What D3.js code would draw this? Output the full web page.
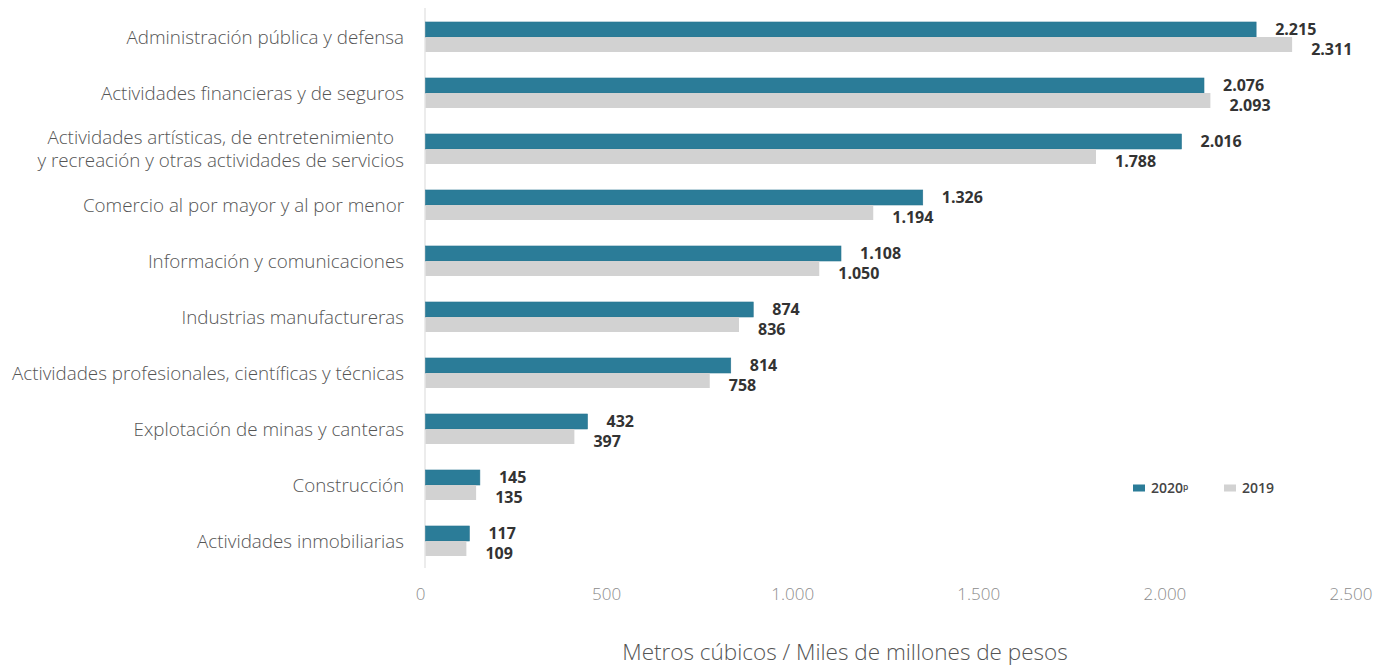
<!DOCTYPE html>
<html lang="es">
<head>
<meta charset="utf-8">
<script src="https://cdn.jsdelivr.net/npm/d3@7"></script>
<style>
  html, body { margin: 0; padding: 0; background: #ffffff; }
  svg { display: block; }
</style>
</head>
<body>
<svg id="chart" width="1382" height="667"></svg>
<script>
// Sectors, top to bottom
const categories = [
  ["Administración pública y defensa"],
  ["Actividades financieras y de seguros"],
  ["Actividades artísticas, de entretenimiento", "y recreación y otras actividades de servicios"],
  ["Comercio al por mayor y al por menor"],
  ["Información y comunicaciones"],
  ["Industrias manufactureras"],
  ["Actividades profesionales, científicas y técnicas"],
  ["Explotación de minas y canteras"],
  ["Construcción"],
  ["Actividades inmobiliarias"]
];

// Values per sector
const values2020 = [2215, 2076, 2016, 1326, 1108, 874, 814, 432, 145, 117];
const values2019 = [2311, 2093, 1788, 1194, 1050, 836, 758, 397, 135, 109];

const seriesNames = ["2020", "2019"];
const seriesColors = ["#2b7c98", "#d2d2d2"];

const xTicks = [0, 500, 1000, 1500, 2000, 2500];
const axisTitle = "Metros cúbicos / Miles de millones de pesos";

// Spanish number format: "." as thousands separator
const fmt = d3.formatLocale({ decimal: ",", thousands: ".", grouping: [3], currency: ["$", ""] }).format(",d");

const svg = d3.select("#chart");

const x = d3.scaleLinear().domain([0, 2500]).range([425.5, 1363]);
const y = d3.scaleBand()
  .domain(d3.range(categories.length))
  .range([9, 569])
  .paddingInner(0.464)
  .paddingOuter(0.232);
const ySub = d3.scaleBand().domain([0, 1]).range([0, y.bandwidth()]);

const rows = categories.map((c, i) => ({ i, label: c, vals: [values2020[i], values2019[i]] }));

// Vertical baseline
svg.append("line")
  .attr("x1", x(0) - 0.5).attr("x2", x(0) - 0.5)
  .attr("y1", 8).attr("y2", 568)
  .attr("stroke", "#d9d9d9").attr("stroke-width", 1);

// Bars
const groups = svg.selectAll("g.row").data(rows).join("g")
  .attr("class", "row")
  .attr("transform", d => `translate(0,${y(d.i)})`);

groups.selectAll("rect").data(d => d.vals.map((v, s) => ({ v, s }))).join("rect")
  .attr("x", x(0))
  .attr("y", d => ySub(d.s))
  .attr("width", d => x(d.v) - x(0))
  .attr("height", ySub.bandwidth())
  .attr("fill", d => seriesColors[d.s])
  .attr("stroke", d => d.s === 0 ? "#2a7591" : "none")
  .attr("stroke-width", 0.6);

// Value labels
groups.selectAll("text.val").data(d => d.vals.map((v, s) => ({ v, s }))).join("text")
  .attr("class", "val")
  .attr("x", d => x(d.v) + 19)
  .attr("y", d => ySub(d.s) + ySub.bandwidth() / 2 + (d.s === 1 ? 5 : 0))
  .attr("dy", "0.36em")
  .attr("font-family", "'Open Sans', sans-serif")
  .attr("font-weight", 700)
  .attr("font-size", 16)
  .attr("fill", "#333333")
  .text(d => fmt(d.v));

// Category labels: right edge at labelRight; wrapped labels are centred on each other
const labelRight = 404;
const lineH = 23;
rows.forEach(d => {
  const cy = y(d.i) + y.bandwidth() / 2;
  const n = d.label.length;
  const g = svg.append("g").attr("class", "cat");
  const texts = g.selectAll("text").data(d.label).join("text")
    .attr("y", (t, k) => cy + (k - (n - 1) / 2) * lineH)
    .attr("dy", "0.35em")
    .attr("font-family", "'Open Sans', sans-serif")
    .attr("font-weight", 300)
    .attr("font-size", 18.8)
    .attr("fill", "#555555")
    .text(t => t);
  if (n === 1) {
    texts.attr("text-anchor", "end").attr("x", labelRight);
  } else {
    const maxW = d3.max(texts.nodes(), node => node.getComputedTextLength());
    texts.attr("text-anchor", "middle").attr("x", labelRight - maxW / 2);
  }
});

// X tick labels
svg.selectAll("text.tick").data(xTicks).join("text")
  .attr("class", "tick")
  .attr("x", (d, i) => x(d) - 5 - i * 1.4)
  .attr("y", 594)
  .attr("dy", "0.35em")
  .attr("text-anchor", "middle")
  .attr("font-family", "'Open Sans', sans-serif")
  .attr("font-weight", 300)
  .attr("font-size", 17)
  .attr("fill", "#8c8c8c")
  .text(d => fmt(d));

// Axis title
svg.append("text")
  .attr("x", 845).attr("y", 652)
  .attr("dy", "0.35em")
  .attr("text-anchor", "middle")
  .attr("font-family", "'Open Sans', sans-serif")
  .attr("font-weight", 300)
  .attr("font-size", 22.5)
  .attr("fill", "#555555")
  .text(axisTitle);

// Legend
const legendX = [1133, 1224];
const leg = svg.selectAll("g.leg").data(seriesNames).join("g")
  .attr("class", "leg")
  .attr("transform", (d, i) => `translate(${legendX[i]},488)`);
leg.append("rect")
  .attr("x", 0).attr("y", -3.5)
  .attr("width", 12).attr("height", 7)
  .attr("fill", (d, i) => seriesColors[i]);
const legText = leg.append("text")
  .attr("x", 18).attr("y", 0).attr("dy", "0.36em")
  .attr("font-family", "'Open Sans', sans-serif")
  .attr("font-weight", 600)
  .attr("font-size", 14)
  .attr("fill", "#444444")
  .text(d => d);
legText.filter((d, i) => i === 0).append("tspan")
  .attr("dy", "-0.4em")
  .attr("font-size", 8.5)
  .text("p");
</script>
</body>
</html>
